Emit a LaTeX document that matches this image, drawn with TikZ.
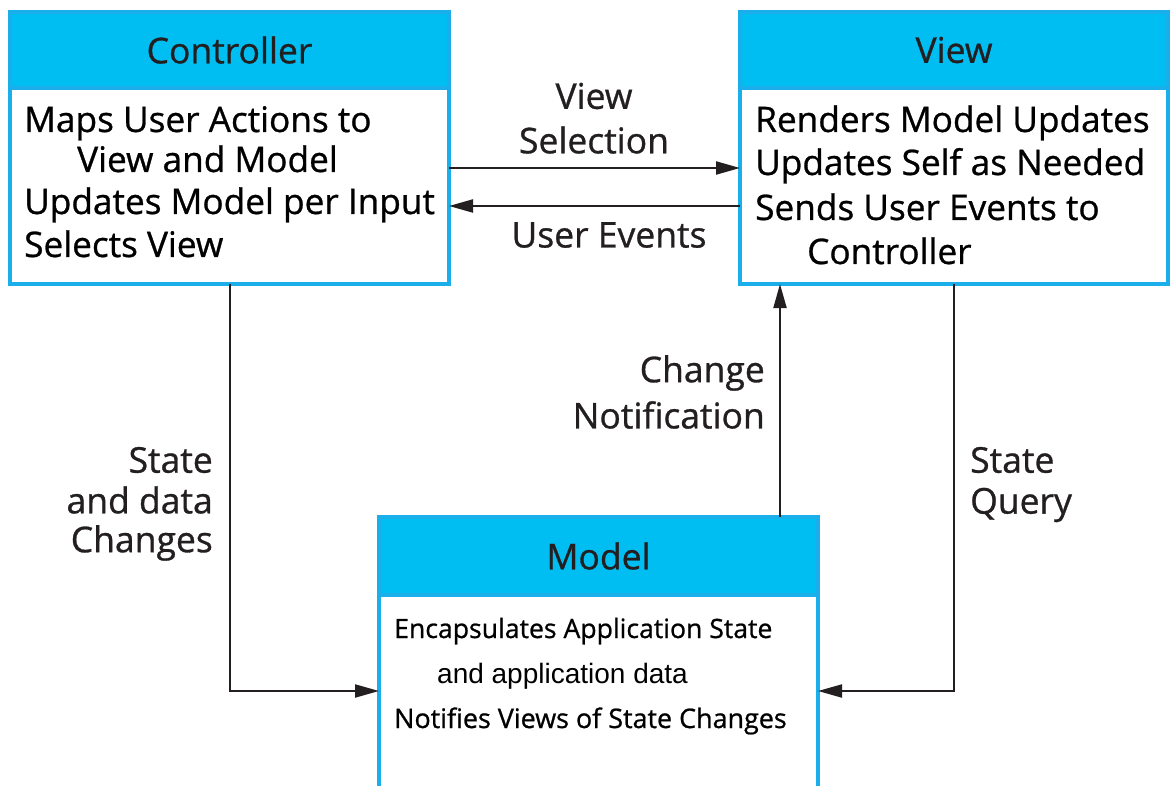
\documentclass[tikz,border=0pt]{standalone}
\usepackage{fontspec}
\setmainfont{Open Sans}[FakeBold=0.8]
\newfontfamily\arialf{Liberation Sans}
\usetikzlibrary{arrows.meta}
\definecolor{bordc}{HTML}{1AAEEA}
\definecolor{hdrc}{HTML}{00BEF2}
\definecolor{inkc}{HTML}{231F20}
\tikzset{
  box/.style={draw=bordc, line width=4pt, fill=white, rectangle, inner sep=0pt, outer sep=0pt},
  hdr/.style={draw=bordc, line width=4pt, fill=hdrc, rectangle, inner sep=0pt, outer sep=0pt},
  ttl/.style={text=inkc, font=\fontsize{35.5}{40}\selectfont, inner sep=0pt},
  bodyt/.style={text=black, font=\fontsize{35.2}{42}\selectfont, inner sep=0pt, anchor=base west},
  smallt/.style={text=black, font=\fontsize{26.6}{32}\selectfont, inner sep=0pt, anchor=base west},
  lbl/.style={text=inkc, font=\fontsize{35.5}{42}\selectfont, inner sep=0pt},
  arr/.style={draw=inkc, line width=2pt, -{Triangle[length=24pt,width=13pt]}}
}
\begin{document}
\begin{tikzpicture}[x=1pt,y=-1pt]
\useasboundingbox (0,0) rectangle (1172,786);
\fill[white] (0,0) rectangle (1172,786);
% Controller
\node[box, minimum width=439pt, minimum height=272pt, anchor=north west] (ctrl) at (10,12) {};
\node[hdr, minimum width=439pt, minimum height=76pt, anchor=north west] (ctrlH) at (10,12) {};
\node[ttl] (ctrlT) at (ctrlH.center) {Controller};
\node[bodyt] (c1) at (24,132) {Maps User Actions to};
\node[bodyt] (c2) at (77,172) {View and Model};
\node[bodyt] (c3) at (24,214) {Updates Model per Input};
\node[bodyt] (c4) at (24,257) {Selects View};
% View
\node[box, minimum width=428pt, minimum height=272pt, anchor=north west] (view) at (740,12) {};
\node[hdr, minimum width=428pt, minimum height=76pt, anchor=north west] (viewH) at (740,12) {};
\node[ttl] (viewT) at (viewH.center) {View};
\node[bodyt] (v1) at (755,132) {Renders Model Updates};
\node[bodyt] (v2) at (755,175) {Updates Self as Needed};
\node[bodyt] (v3) at (755,220) {Sends User Events to};
\node[bodyt] (v4) at (807,264) {Controller};
% Model
\node[box, draw=none, minimum width=439pt, minimum height=300pt, anchor=north west] (model) at (379,517) {};
\draw[bordc, line width=4pt] (model.south west) -- (model.north west) -- (model.north east) -- (model.south east);
\node[hdr, minimum width=439pt, minimum height=78pt, anchor=north west] (modelH) at (379,517) {};
\node[ttl] (modelT) at (modelH.center) {Model};
\node[smallt] (m1) at (394,638) {Encapsulates Application State};
\node[smallt, font=\arialf\fontsize{28}{32}\selectfont] (m2) at (437,683) {and application data};
\node[smallt, font=\fontsize{26.9}{32}\selectfont] (m3) at (394,728) {Notifies Views of State Changes};
% Connectors
\coordinate (ya) at (0,168);
\coordinate (yb) at (0,206);
\coordinate (yc) at (0,691);
\coordinate (xn) at (780,0);
\draw[arr] (ctrl.east |- ya) -- (view.west |- ya);
\draw[arr] (view.west |- yb) -- (ctrl.east |- yb);
\draw[arr] (ctrl.south) |- (model.west |- yc);
\draw[arr] (view.south) |- (model.east |- yc);
\draw[arr] (modelH.north -| xn) -- (view.south -| xn);
% Labels
\node[lbl] (lv1) at (594,96) {View};
\node[lbl] (lv2) at (594,140) {Selection};
\node[lbl] (lue) at (609,235) {User Events};
\node[lbl, anchor=east] (lcn1) at (765,373) {Change};
\node[lbl, anchor=east] (lcn2) at (765,415) {Notification};
\node[lbl, anchor=east] (ls1) at (213,460) {State};
\node[lbl, anchor=east] (ls2) at (213,500) {and data};
\node[lbl, anchor=east] (ls3) at (213,543) {Changes};
\node[lbl, anchor=west] (lq1) at (970,460) {State};
\node[lbl, anchor=west] (lq2) at (970,505) {Query};
\end{tikzpicture}
\end{document}
